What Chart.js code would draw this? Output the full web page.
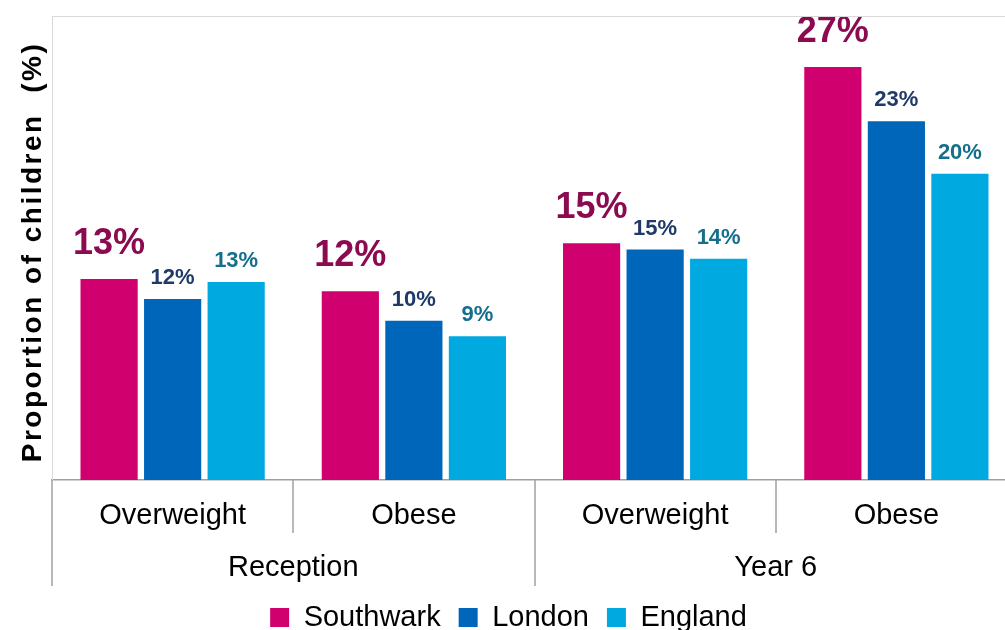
<!DOCTYPE html>
<html>
<head>
<meta charset="utf-8">
<script src="https://cdn.jsdelivr.net/npm/chart.js@4"></script>
<style>
  body { margin: 0; background: #fff; overflow: hidden; }
</style>
</head>
<body>
<canvas id="chart" width="1020" height="630"></canvas>
<script>
// values (%)
const categories = ['Overweight', 'Obese', 'Overweight', 'Obese'];
const groups = ['Reception', 'Year 6'];
const southwark = [13.0, 12.2, 15.3, 26.7];
const london = [11.7, 10.3, 14.9, 23.2];
const england = [12.8, 9.3, 14.3, 19.8];

const FONT = "'Liberation Sans', Arial, sans-serif";

const labelStyles = [
  { size: 36, color: '#8b0a50', offset: 25 },
  { size: 22, color: '#1f3a68', offset: 15 },
  { size: 22, color: '#146f8c', offset: 15 }
];

// % labels above bars
const valueLabels = {
  id: 'valueLabels',
  afterDatasetsDraw(chart) {
    const ctx = chart.ctx;
    chart.data.datasets.forEach((ds, i) => {
      const st = labelStyles[i];
      ctx.save();
      ctx.font = `bold ${st.size}px ${FONT}`;
      ctx.fillStyle = st.color;
      ctx.textAlign = 'center';
      ctx.textBaseline = 'alphabetic';
      chart.getDatasetMeta(i).data.forEach((bar, j) => {
        ctx.fillText(Math.round(ds.data[j]) + '%', bar.x, bar.y - st.offset);
      });
      ctx.restore();
    });
  }
};

// two level x axis + frame + y title
const frame = {
  id: 'frame',
  afterDraw(chart) {
    const ctx = chart.ctx;
    const a = chart.chartArea;
    const xs = chart.scales.x;
    const step = xs.getPixelForValue(1) - xs.getPixelForValue(0);
    ctx.save();
    // top border
    ctx.strokeStyle = '#d9d9d9';
    ctx.lineWidth = 1;
    ctx.beginPath();
    ctx.moveTo(a.left, a.top + 0.5);
    ctx.lineTo(a.right, a.top + 0.5);
    ctx.stroke();

    // separators
    ctx.strokeStyle = '#a0a0a0';
    ctx.lineWidth = 1.5;
    for (let i = 0; i <= categories.length; i++) {
      const x = Math.round(xs.getPixelForValue(0) - step / 2 + i * step);
      const len = i % 2 === 0 ? 106 : 53;
      ctx.beginPath();
      ctx.moveTo(x, a.bottom);
      ctx.lineTo(x, a.bottom + len);
      ctx.stroke();
    }

    ctx.fillStyle = '#000';
    ctx.textAlign = 'center';
    ctx.textBaseline = 'alphabetic';
    ctx.font = `29px ${FONT}`;
    categories.forEach((c, i) => {
      ctx.fillText(c, xs.getPixelForValue(i), a.bottom + 44);
    });
    groups.forEach((g, k) => {
      const x = (xs.getPixelForValue(k * 2) + xs.getPixelForValue(k * 2 + 1)) / 2;
      ctx.fillText(g, x, a.bottom + 96);
    });

    // y title
    ctx.translate(41, 252);
    ctx.rotate(-Math.PI / 2);
    ctx.font = `bold 28px ${FONT}`;
    if ('letterSpacing' in ctx) ctx.letterSpacing = '2.5px';
    ctx.fillText('Proportion of children  (%)', 0, 0);
    ctx.restore();
  }
};

new Chart(document.getElementById('chart'), {
  type: 'bar',
  data: {
    labels: categories,
    datasets: [
      { label: 'Southwark', data: southwark, backgroundColor: '#d0006f' },
      { label: 'London', data: london, backgroundColor: '#0066b9' },
      { label: 'England', data: england, backgroundColor: '#00a9e0' }
    ]
  },
  options: {
    responsive: false,
    animation: false,
    categoryPercentage: 0.79,
    barPercentage: 0.9,
    layout: { padding: { top: 16, right: 3, left: 0, bottom: -12 } },
    scales: {
      x: {
        grid: { display: false },
        border: { color: '#a0a0a0', width: 1.5 },
        ticks: { display: false },
        afterFit(s) { s.height = 105; }
      },
      y: {
        min: 0,
        max: 30,
        grid: { display: false },
        border: { color: '#d9d9d9', width: 1 },
        ticks: { display: false },
        afterFit(s) { s.width = 52; }
      }
    },
    plugins: {
      tooltip: { enabled: false },
      legend: {
        position: 'bottom',
        labels: {
          color: '#000',
          font: { family: FONT, size: 29 },
          boxWidth: 19,
          boxHeight: 19,
          padding: 18
        }
      }
    }
  },
  plugins: [valueLabels, frame]
});
</script>
</body>
</html>
